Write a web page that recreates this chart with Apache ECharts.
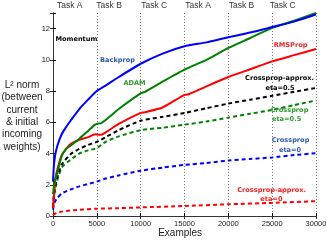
<!DOCTYPE html>
<html><head><meta charset="utf-8">
<script src="https://cdn.jsdelivr.net/npm/echarts@6/dist/echarts.min.js"></script>
<style>html,body{margin:0;padding:0;background:#fff}#c{width:327px;height:240px}</style>
</head><body><div id="c"></div>
<script>
// ---- data ----
const yTicks = [0, 2, 4, 6, 8, 10, 12];
const xTicks = [0, 5000, 10000, 15000, 20000, 25000, 30000];
const taskNames = ['Task A', 'Task B', 'Task C', 'Task A', 'Task B', 'Task C'];
const taskX = [1900, 6400, 11550, 16550, 21500, 26200];

const backpropX = [0, 100, 250, 500, 1000, 1500, 2000, 3000, 4000, 5000, 6000, 7500, 10000, 12500, 15000, 17500, 20000, 22500, 25000, 27500, 30000];
const backpropY = [2.2, 3.2, 3.9, 4.5, 5.25, 5.7, 6.1, 6.85, 7.45, 8.0, 8.35, 8.9, 9.75, 10.4, 10.87, 11.12, 11.45, 11.75, 12.1, 12.45, 12.9];

const adamX = [0, 100, 250, 500, 1000, 1500, 2000, 3000, 4000, 4800, 5000, 5500, 6000, 7500, 10000, 10500, 12500, 15000, 17500, 20000, 22500, 25000, 27500, 30000];
const adamY = [1.4, 1.9, 2.3, 2.8, 3.85, 4.3, 4.5, 4.95, 5.45, 5.85, 5.9, 5.95, 6.15, 6.85, 7.85, 7.95, 8.6, 9.37, 10.0, 10.76, 11.4, 12.05, 12.5, 13.0];

const rmspropX = [0, 100, 250, 500, 1000, 1500, 2000, 3000, 4000, 4800, 5000, 5500, 6000, 7500, 10000, 10500, 12500, 15000, 15500, 17500, 20000, 22500, 25000, 27500, 30000];
const rmspropY = [0.5, 1.3, 2.3, 3.0, 3.9, 4.3, 4.6, 4.88, 5.05, 5.24, 5.22, 5.2, 5.35, 5.9, 6.6, 6.65, 6.95, 7.76, 7.8, 8.3, 8.9, 9.4, 9.9, 10.3, 10.7];

const cpApproxHalfX = [0, 100, 250, 500, 1000, 2000, 3000, 4000, 5000, 6000, 7500, 10000, 12500, 15000, 17500, 20000, 22500, 25000, 27500, 30000];
const cpApproxHalfY = [0.6, 1.3, 1.9, 2.5, 3.3, 3.95, 4.3, 4.55, 4.75, 5.05, 5.5, 6.1, 6.35, 6.6, 6.9, 7.2, 7.45, 7.7, 7.95, 8.2];

const cpHalfX = [0, 100, 250, 500, 1000, 2000, 3000, 4000, 5000, 6000, 7500, 10000, 12500, 15000, 17500, 20000, 22500, 25000, 27500, 30000];
const cpHalfY = [0.5, 1.2, 1.7, 2.3, 3.1, 3.6, 4.0, 4.2, 4.35, 4.75, 5.1, 5.5, 5.65, 5.85, 6.05, 6.3, 6.55, 6.8, 7.1, 7.4];

const cpZeroX = [0, 100, 250, 500, 1000, 2000, 3000, 4000, 5000, 6000, 7500, 10000, 12500, 15000, 17500, 20000, 22500, 25000, 27500, 30000];
const cpZeroY = [0.4, 0.7, 0.95, 1.15, 1.45, 1.7, 1.9, 2.05, 2.2, 2.4, 2.6, 2.9, 3.1, 3.27, 3.4, 3.55, 3.65, 3.75, 3.9, 4.02];

const cpApproxZeroX = [0, 250, 500, 1000, 2000, 3000, 5000, 7500, 10000, 15000, 20000, 25000, 30000];
const cpApproxZeroY = [0.05, 0.15, 0.22, 0.28, 0.35, 0.4, 0.47, 0.5, 0.55, 0.64, 0.75, 0.84, 0.95];

// annotations: [text, x, y, color]
const notes = [
  ['Momentum', 2666, 11.3, '#000000'],
  ['Backprop', 7357, 9.95, '#2f5aa8'],
  ['ADAM', 9302, 8.47, '#2e9a2e'],
  ['RMSProp', 27094, 10.91, '#ee2222'],
  ['Crossprop-approx.', 25835, 8.79, '#000000'],
  ['eta=0.5', 25900, 8.21, '#000000'],
  ['Crossprop', 26980, 6.8, '#2e9a2e'],
  ['eta=0.5', 26650, 6.17, '#2e9a2e'],
  ['Crossprop', 27094, 4.82, '#2f5aa8'],
  ['eta=0', 27040, 4.18, '#2f5aa8'],
  ['Crossprop-approx.', 24943, 1.65, '#ee2222'],
  ['eta=0', 24910, 1.07, '#ee2222']
];
const yName = 'L² norm\n(between\ncurrent\n& initial\nincoming\nweights)';
const xName = 'Examples';

const zip = (xs, ys) => xs.map((x, i) => [x, ys[i]]);
const FONT = 'Liberation Sans';

function line(name, xs, ys, color, dashed) {
  return {
    name, type: 'line', data: zip(xs, ys), showSymbol: false, smooth: 0.2,
    lineStyle: { color, width: 2, type: dashed ? [4, 3] : 'solid' },
    itemStyle: { color }, animation: false, silent: true
  };
}

const chart = echarts.init(document.getElementById('c'), null, { renderer: 'canvas' });
chart.setOption({
  animation: false,
  grid: { left: 53, right: 11, top: 13, bottom: 24, containLabel: false, outerBoundsMode: 'none' },
  xAxis: [{
    type: 'value', min: 0, max: 30000, interval: 5000, position: 'bottom',
    axisLine: { lineStyle: { color: '#000', width: 1 } },
    axisTick: { inside: true, length: 3, lineStyle: { color: '#000' } },
    axisLabel: { fontFamily: FONT, fontSize: 7.5, color: '#222', margin: 4,
      formatter: v => (xTicks.includes(v) ? String(v) : '') },
    splitLine: { show: true, lineStyle: { color: '#777', type: [1, 2], width: 1 } }
  }, {
    type: 'value', min: 0, max: 30000, interval: 5000, position: 'top',
    axisLine: { show: true, lineStyle: { color: '#333', width: 1 } },
    axisTick: { inside: true, length: 3, lineStyle: { color: '#333' } },
    axisLabel: { show: false }, splitLine: { show: false }
  }],
  yAxis: [{
    type: 'value', min: 0, max: 13, interval: 2, position: 'left',
    axisLine: { show: true, lineStyle: { color: '#000', width: 1 } },
    axisTick: { show: true, inside: true, length: 3, lineStyle: { color: '#000' } },
    axisLabel: { fontFamily: FONT, fontSize: 7.5, color: '#222', margin: 3,
      formatter: v => (yTicks.includes(v) ? String(v) : '') },
    splitLine: { show: false }
  }, {
    type: 'value', min: 0, max: 13, interval: 2, position: 'right',
    axisLine: { show: true, lineStyle: { color: '#333', width: 1 } },
    axisTick: { show: true, inside: true, length: 3, lineStyle: { color: '#333' } },
    axisLabel: { show: false }, splitLine: { show: false }
  }],
  series: [
    line('Crossprop-approx. eta=0', cpApproxZeroX, cpApproxZeroY, '#ff0000', true),
    line('Crossprop eta=0', cpZeroX, cpZeroY, '#0000ff', true),
    line('Crossprop eta=0.5', cpHalfX, cpHalfY, '#008000', true),
    line('Crossprop-approx. eta=0.5', cpApproxHalfX, cpApproxHalfY, '#000000', true),
    line('RMSProp', rmspropX, rmspropY, '#ff0000', false),
    line('ADAM', adamX, adamY, '#008000', false),
    line('Backprop', backpropX, backpropY, '#0000ff', false)
  ]
});

const gfx = [];
taskNames.forEach((t, i) => {
  const p = chart.convertToPixel({ xAxisIndex: 0, yAxisIndex: 0 }, [taskX[i], 13]);
  gfx.push({ type: 'text', x: p[0], y: 6, style: { text: t, fontFamily: FONT, fontSize: 8.5, fill: '#333', align: 'center', verticalAlign: 'middle' } });
});
notes.forEach(n => {
  const p = chart.convertToPixel({ xAxisIndex: 0, yAxisIndex: 0 }, [n[1], n[2]]);
  gfx.push({ type: 'text', x: p[0], y: p[1], z: 100, style: { text: n[0], fontFamily: 'DejaVu Sans', fontWeight: 'bold', fontSize: 6.6, fill: n[3], align: 'center', verticalAlign: 'middle' } });
});
const ex = chart.convertToPixel({ xAxisIndex: 0, yAxisIndex: 0 }, [14500, 0]);
gfx.push({ type: 'text', x: ex[0], y: 233, style: { text: xName, fontFamily: FONT, fontSize: 10, fill: '#222', align: 'center', verticalAlign: 'middle' } });
const mid = chart.convertToPixel({ xAxisIndex: 0, yAxisIndex: 0 }, [0, 6.4]);
gfx.push({ type: 'text', x: 22, y: mid[1], style: { text: yName, fontFamily: FONT, fontSize: 10, lineHeight: 12.4, fill: '#222', align: 'center', verticalAlign: 'middle' } });
chart.setOption({ graphic: gfx });
</script>
</body></html>
